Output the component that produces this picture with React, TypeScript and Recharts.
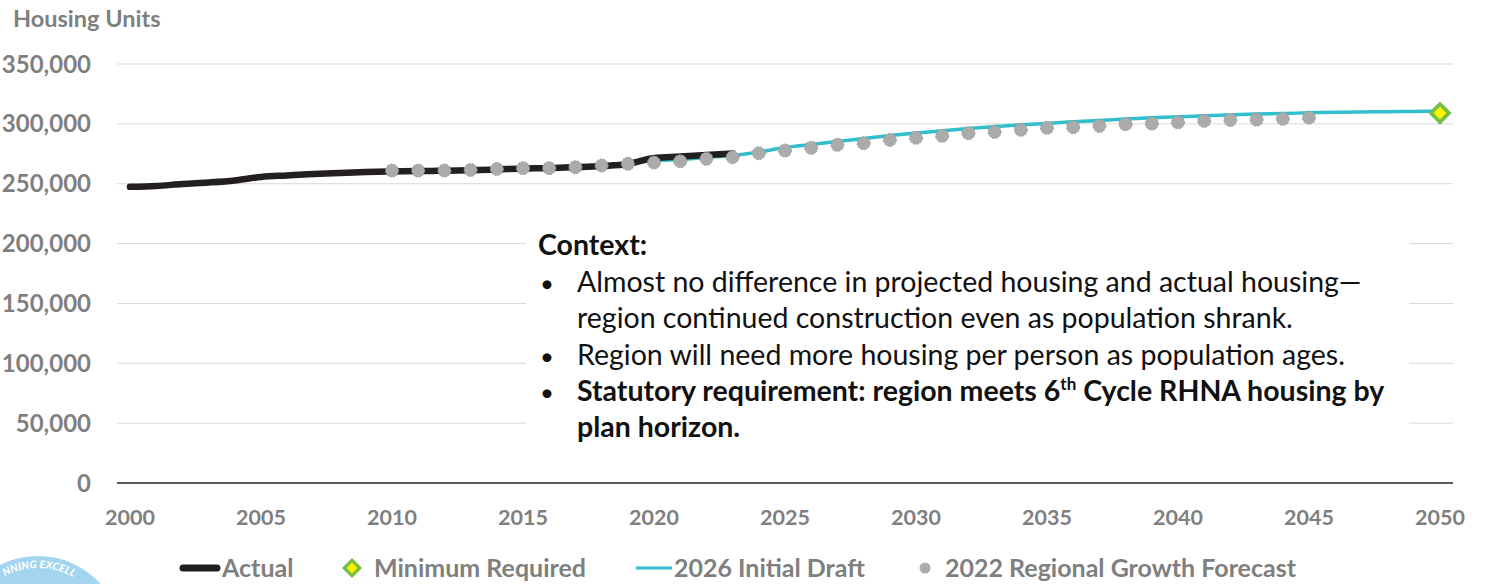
import { LineChart, Line, XAxis, YAxis, CartesianGrid } from "recharts";

// categories
const years = [
  2000, 2001, 2002, 2003, 2004, 2005, 2006, 2007, 2008, 2009,
  2010, 2011, 2012, 2013, 2014, 2015, 2016, 2017, 2018, 2019,
  2020, 2021, 2022, 2023, 2024, 2025, 2026, 2027, 2028, 2029,
  2030, 2031, 2032, 2033, 2034, 2035, 2036, 2037, 2038, 2039,
  2040, 2041, 2042, 2043, 2044, 2045, 2046, 2047, 2048, 2049, 2050,
];

// Actual housing units, 2000-2023
const actualStart = 2000;
const actualUnits = [
  247400, 248100, 249800, 251000, 252700, 255600, 256900, 258100, 259000, 259800,
  260200, 260600, 260800, 261200, 261900, 262700, 263000, 263800, 264800, 266500,
  271500, 272700, 274000, 275200,
];

// 2022 Regional Growth Forecast, 2010-2045
const forecastStart = 2010;
const forecastUnits = [
  261000, 261000, 261000, 261500, 262300, 263000, 263000, 263800, 265200, 266600,
  267700, 268800, 270800, 272100, 275500, 277700, 280000, 282500, 283800, 286600,
  288300, 290000, 292200, 293300, 295000, 296700, 297200, 298300, 299700, 300200,
  301300, 302500, 303300, 303600, 304200, 305200,
];

// 2026 Initial Draft, 2020-2050
const draftStart = 2020;
const draftUnits = [
  269400, 270200, 271900, 273500, 276500, 280200, 282700, 285200, 287700, 290200,
  292300, 294200, 296100, 297700, 299200, 300400, 301700, 302900, 304000, 305000,
  305900, 306800, 307500, 308200, 308700, 309200, 309700, 310000, 310200, 310400,
  310500,
];

// Minimum Required (6th Cycle RHNA)
const minimumYears = [2050];
const minimumUnits = [309000];

const yTicks = [0, 50000, 100000, 150000, 200000, 250000, 300000, 350000];

const pick = (arr: number[], start: number, year: number) => {
  const i = year - start;
  return i >= 0 && i < arr.length ? arr[i] : null;
};

const data = years.map((year) => {
  const m = minimumYears.indexOf(year);
  return {
    year,
    actual: pick(actualUnits, actualStart, year),
    forecast: pick(forecastUnits, forecastStart, year),
    draft: pick(draftUnits, draftStart, year),
    minimum: m >= 0 ? minimumUnits[m] : null,
  };
});

const FONT = "Lato, sans-serif";
const GRAY_TEXT = "#7f7f7f";
const BLACK = "#231f20";
const TEAL = "#31bfcb";
const DOT_GRAY = "#ababab";
const GREEN = "#72bf44";
const YELLOW = "#fff200";

const ForecastDot = (props: any) => {
  const { cx, cy, index, value } = props;
  if (value == null || cy == null || isNaN(cy)) return <g key={`f-${index}`} />;
  return (
    <circle
      key={`f-${index}`}
      cx={cx}
      cy={cy}
      r={6.5}
      fill={DOT_GRAY}
      stroke="#9a9a9a"
      strokeWidth={1}
      strokeDasharray="2 1.5"
    />
  );
};

const DiamondDot = (props: any) => {
  const { cx, cy, index, value } = props;
  if (value == null || cy == null || isNaN(cy)) return <g key={`m-${index}`} />;
  const d = (s: number) => `${cx},${cy - s} ${cx + s},${cy} ${cx},${cy + s} ${cx - s},${cy}`;
  return (
    <g key={`m-${index}`}>
      <polygon points={d(11.7)} fill={GREEN} />
      <polygon points={d(6.3)} fill={YELLOW} />
    </g>
  );
};

function Overlay() {
  const txt = { fontFamily: FONT, fontSize: 28.5, fill: "#111" };
  const leg = { fontFamily: FONT, fontSize: 25, fontWeight: 700, fill: GRAY_TEXT };
  return (
    <svg
      width={1488}
      height={584}
      style={{ position: "absolute", left: 0, top: 0, pointerEvents: "none" }}
    >
      {/* axis title */}
      <text x={13} y={27} fontFamily={FONT} fontSize={23.5} fontWeight={700} fill={GRAY_TEXT}>
        Housing Units
      </text>

      {/* context box */}
      <rect x={526} y={212} width={883} height={245} fill="#fff" />
      <text x={538} y={255} {...txt} fontWeight={700}>Context:</text>
      <text x={540} y={292} {...txt} fontSize={24}>•</text>
      <text x={577} y={292} {...txt}>
        Almost no difference in projected housing and actual housing—
      </text>
      <text x={577} y={328} {...txt}>
        region continued construction even as population shrank.
      </text>
      <text x={540} y={365} {...txt} fontSize={24}>•</text>
      <text x={577} y={365} {...txt}>
        Region will need more housing per person as population ages.
      </text>
      <text x={540} y={401} {...txt} fontSize={24}>•</text>
      <text x={577} y={401} {...txt} fontWeight={700}>
        Statutory requirement: region meets 6
        <tspan dy={-11} fontSize={17}>th</tspan>
        <tspan dy={11}> Cycle RHNA housing by</tspan>
      </text>
      <text x={577} y={437} {...txt} fontWeight={700}>plan horizon.</text>

      {/* legend */}
      <line x1={183} y1={568} x2={217} y2={568} stroke={BLACK} strokeWidth={7} strokeLinecap="round" />
      <text x={222} y={577} {...leg}>Actual</text>
      <polygon points="352,558 362,568 352,578 342,568" fill={GREEN} />
      <polygon points="352,562.5 357.5,568 352,573.5 346.5,568" fill={YELLOW} />
      <text x={374} y={577} {...leg}>Minimum Required</text>
      <line x1={636} y1={568} x2={672} y2={568} stroke={TEAL} strokeWidth={3} />
      <text x={674} y={577} {...leg}>2026 Initial Draft</text>
      <circle cx={925} cy={568} r={5.5} fill={DOT_GRAY} />
      <text x={945} y={577} {...leg}>2022 Regional Growth Forecast</text>

      {/* award logo, cropped at the corner */}
      <defs>
        <path id="logoArc" d="M -34 640 A 72 72 0 0 1 110 640" />
      </defs>
      <circle cx={38} cy={640} r={84} fill="#a3d5ef" />
      <text fontFamily={FONT} fontSize={10.5} fontWeight={900} fontStyle="italic" fill="#fff" letterSpacing={0.2}>
        <textPath href="#logoArc" startOffset={78}>NNING EXCELL</textPath>
      </text>
    </svg>
  );
}

export default function App() {
  return (
    <div
      style={{
        position: "absolute",
        left: 0,
        top: 0,
        width: 1488,
        height: 584,
        background: "#fff",
        fontFamily: FONT,
        overflow: "hidden",
      }}
    >
      <LineChart
        width={1488}
        height={584}
        data={data}
        margin={{ top: 64, right: 35, left: 0, bottom: 0 }}
      >
        <CartesianGrid vertical={false} stroke="#d9d9d9" strokeWidth={1} />
        <XAxis
          dataKey="year"
          interval={4}
          padding={{ left: 13, right: 13 }}
          tickLine={false}
          tickSize={0}
          tickMargin={27}
          height={101}
          axisLine={{ stroke: "#262626", strokeWidth: 1.5 }}
          tick={{ fill: GRAY_TEXT, fontSize: 21.5, fontWeight: 700, fontFamily: FONT }}
        />
        <YAxis
          type="number"
          domain={[0, 350000]}
          ticks={yTicks}
          width={117}
          axisLine={false}
          tickLine={false}
          tickSize={0}
          tickMargin={26}
          tickFormatter={(v: number) => v.toLocaleString("en-US")}
          tick={{ fill: GRAY_TEXT, fontSize: 24, fontWeight: 700, fontFamily: FONT }}
        />
        <Line
          dataKey="draft"
          type="monotone"
          stroke={TEAL}
          strokeWidth={3.5}
          dot={false}
          activeDot={false}
          isAnimationActive={false}
        />
        <Line
          dataKey="actual"
          type="monotone"
          stroke={BLACK}
          strokeWidth={6.5}
          strokeLinecap="round"
          dot={false}
          activeDot={false}
          isAnimationActive={false}
        />
        <Line
          dataKey="forecast"
          stroke="none"
          dot={ForecastDot}
          activeDot={false}
          isAnimationActive={false}
        />
        <Line
          dataKey="minimum"
          stroke="none"
          dot={DiamondDot}
          activeDot={false}
          isAnimationActive={false}
        />
      </LineChart>
      <Overlay />
    </div>
  );
}
